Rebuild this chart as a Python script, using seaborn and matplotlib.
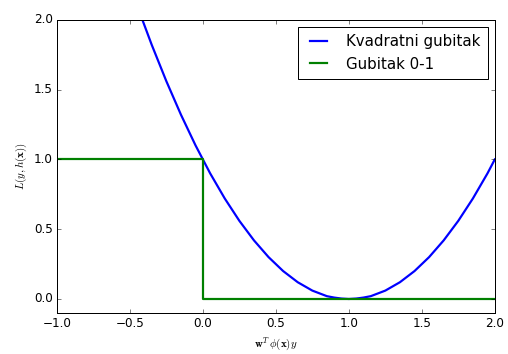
import matplotlib
matplotlib.use('Agg')
import matplotlib.pyplot as plt
import seaborn as sns
import numpy as np

# Quadratic loss points
margin = [-0.45, -0.4, -0.35, -0.3, -0.25, -0.2, -0.15, -0.1, -0.05, 0.0, 0.05, 0.1, 0.15,
          0.2, 0.25, 0.3, 0.35, 0.4, 0.45, 0.5, 0.55, 0.6, 0.65, 0.7, 0.75, 0.8, 0.85,
          0.9, 0.95, 1.0, 1.05, 1.1, 1.15, 1.2, 1.25, 1.3, 1.35, 1.4, 1.45, 1.5, 1.55,
          1.6, 1.65, 1.7, 1.75, 1.8, 1.85, 1.9, 1.95, 2.0]
sq_loss = [2.10, 1.96, 1.82, 1.69, 1.56, 1.44, 1.32, 1.21, 1.10, 1.00, 0.90, 0.81, 0.72,
           0.64, 0.56, 0.49, 0.42, 0.36, 0.30, 0.25, 0.20, 0.16, 0.12, 0.09, 0.06, 0.04, 0.02,
           0.01, 0.003, 0.00, 0.003, 0.01, 0.02, 0.04, 0.06, 0.09, 0.12, 0.16, 0.20, 0.25, 0.30,
           0.36, 0.42, 0.49, 0.56, 0.64, 0.72, 0.81, 0.90, 1.00]

# 0-1 loss corners
step_x = [-1.0, 0.0, 0.0, 2.0]
step_y = [1.0, 1.0, 0.0, 0.0]

plt.style.use('classic')
plt.rcParams['mathtext.fontset'] = 'cm'

fig = plt.figure(figsize=(508 / 72, 354 / 72), dpi=72, facecolor='white')
ax = fig.add_axes([0.112, 0.116, 0.862, 0.828])

sns.lineplot(x=margin, y=sq_loss, sort=False, estimator=None, color='b', lw=2.2,
             label='Kvadratni gubitak', ax=ax)
sns.lineplot(x=step_x, y=step_y, sort=False, estimator=None, color='g', lw=2.2,
             label='Gubitak 0-1', ax=ax)

ax.set_xlim(-1, 2)
ax.set_ylim(-0.1, 2)
ax.set_xticks(np.arange(-1.0, 2.01, 0.5))
ax.set_yticks(np.arange(0.0, 2.01, 0.5))
ax.set_xlabel(r'$\mathbf{w}^T\,\phi(\mathbf{x})y$', fontsize=11)
ax.set_ylabel(r'$L(y,h(\mathbf{x}))$', fontsize=11)
ax.legend(loc='upper right', fontsize=15, handlelength=1.7, handletextpad=1.0,
          labelspacing=0.5, borderpad=0.5, borderaxespad=0.45)

fig.savefig('out.png', dpi=72, facecolor='white')
